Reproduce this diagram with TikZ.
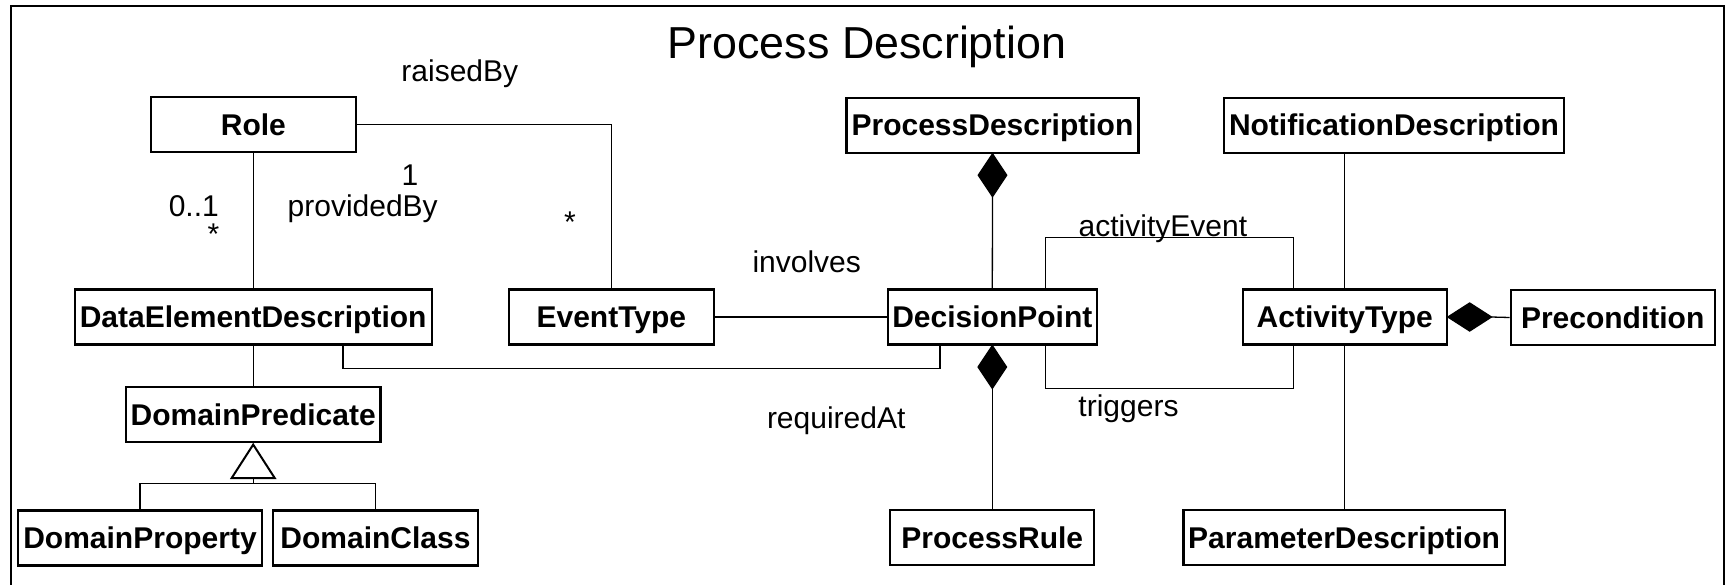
\documentclass[tikz,border=0pt]{standalone}
\usepackage{fontspec}
\setmainfont{Liberation Sans}
\begin{document}
\begin{tikzpicture}[x=1pt,y=-1pt,
  cls/.style={draw, line width=2.2pt, inner sep=0pt, font=\fontsize{30}{36}\selectfont\bfseries,
    text height=21.5pt, text depth=0pt, minimum height=55pt},
  lbl/.style={inner sep=0pt, anchor=base, font=\fontsize{30}{36}\selectfont},
  link/.style={line width=1.3pt},
  comp/.style={line width=1.3pt, fill=black},
  gen/.style={line width=2pt, fill=white}]
\useasboundingbox (0,0) rectangle (1727,584);

% package frame
\draw[line width=2.2pt] (11,590) -- (11,6) -- (1724,6) -- (1724,590);
\node[lbl, font=\fontsize{44.8}{50}\selectfont] (title) at (867,58.5) {Process Description};

% classes
\node[cls, minimum width=205pt] (role) at (253.4,124.5) {Role};
\node[cls, minimum width=357pt] (ded) at (253.2,317) {DataElementDescription};
\node[cls, minimum width=205pt] (et) at (611.3,317) {EventType};
\node[cls, minimum width=209pt] (dp) at (992.3,317) {DecisionPoint};
\node[cls, minimum width=292pt] (pd) at (992.5,125.2) {ProcessDescription};
\node[cls, minimum width=340.6pt] (nd) at (1394,125.2) {NotificationDescription};
\node[cls, minimum width=204pt] (at) at (1344.75,317) {ActivityType};
\node[cls, minimum width=204pt] (pc) at (1612.7,317.5) {Precondition};
\node[cls, minimum width=254.5pt] (dpr) at (253.2,414.5) {DomainPredicate};
\node[cls, minimum width=244pt] (dprop) at (140,537.9) {DomainProperty};
\node[cls, minimum width=204.5pt] (dcls) at (375.5,537.9) {DomainClass};
\node[cls, minimum width=204pt] (pr) at (992.3,537.4) {ProcessRule};
\node[cls, minimum width=321.4pt] (pad) at (1344.1,537.4) {ParameterDescription};

% associations
\draw[link] (role.east) -| (et.north);
\draw[link] (role.south) -- (role.south |- ded.north);
\draw[link] (et.east) -- (dp.west);
\draw[link] ([xshift=89.7pt]ded.south) -- ++(0,23) -| ([xshift=-52.3pt]dp.south);
\draw[link] ([xshift=53pt]dp.north) -- ++(0,-50.7) -| ([xshift=-51.5pt]at.north);
\draw[link] ([xshift=53pt]dp.south) -- ++(0,42.8) -| ([xshift=-51.5pt]at.south);
\draw[link] (at.north |- nd.south) -- (at.north);
\draw[link] (at.south) -- (at.south |- pad.north);

% compositions
\draw[comp] (pd.south) -- ++(14.2,21.4) -- ++(-14.2,21.4) coordinate (pdd) -- ++(-14.2,-21.4) -- cycle;
\draw[link] (pdd) -- (dp.north);
\draw[comp] (dp.south) -- ++(14.2,21.4) -- ++(-14.2,21.4) coordinate (dpd) -- ++(-14.2,-21.4) -- cycle;
\draw[link] (dpd) -- (pr.north);
\draw[comp] (at.east) -- ++(21.8,-14) -- ++(21.8,14) coordinate (atd) -- ++(-21.8,14) -- cycle;
\draw[link] (atd) -- (pc.west);

% generalization
\draw[link] (ded.south) -- (dpr.north);
\draw[gen] ([yshift=-1.5pt]dpr.south) -- ++(21.5,33.4) -- ++(-43,0) -- cycle;
\path ([yshift=-1.5pt]dpr.south) ++(0,33.4) coordinate (tb);
\path (tb) ++(0,5.6) coordinate (tj);
\draw[link] (tb) -- (tj);
\draw[link] (dprop.north) |- (tj) -| (dcls.north);

% labels
\node[lbl] (l1) at (459.8,81) {raisedBy};
\node[lbl] (l2) at (410,185) {1};
\node[lbl] (l3) at (362.7,216.7) {providedBy};
\node[lbl] (l4) at (193.8,216) {0..1};
\node[lbl] (l5) at (213.4,244) {*};
\node[lbl] (l6) at (570,232) {*};
\node[lbl] (l7) at (806.7,272.5) {involves};
\node[lbl] (l8) at (1162.9,236) {activityEvent};
\node[lbl] (l9) at (1128.5,416.5) {triggers};
\node[lbl] (l10) at (836.2,428) {requiredAt};
\end{tikzpicture}
\end{document}
